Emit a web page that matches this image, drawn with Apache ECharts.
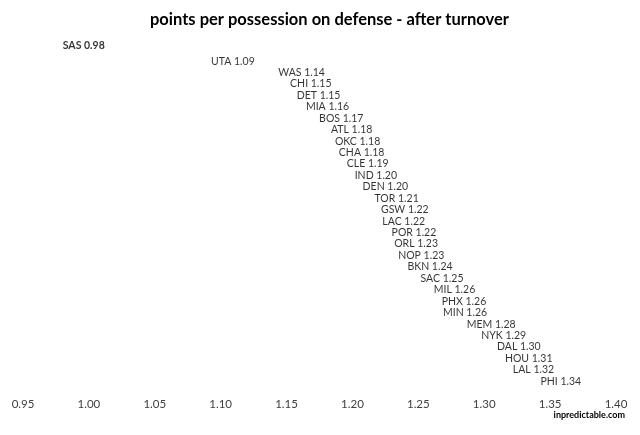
<!DOCTYPE html>
<html>
<head>
<meta charset="utf-8">
<script src="https://cdn.jsdelivr.net/npm/echarts@6/dist/echarts.min.js"></script>
<style>
  html, body { margin: 0; padding: 0; background: #fff; }
  #chart { width: 640px; height: 435px; }
</style>
</head>
<body>
<div id="chart"></div>
<script>
var dom = document.getElementById("chart");
var myChart = echarts.init(dom);

var teams = ['SAS', 'UTA', 'WAS', 'CHI', 'DET', 'MIA', 'BOS', 'ATL', 'OKC', 'CHA',
    'CLE', 'IND', 'DEN', 'TOR', 'GSW', 'LAC', 'POR', 'ORL', 'NOP', 'BKN',
    'SAC', 'MIL', 'PHX', 'MIN', 'MEM', 'NYK', 'DAL', 'HOU', 'LAL', 'PHI'];

var ppp = [0.976, 1.087, 1.138, 1.147, 1.152, 1.159, 1.169, 1.178, 1.181, 1.184,
    1.190, 1.196, 1.202, 1.211, 1.216, 1.217, 1.224, 1.226, 1.229, 1.236,
    1.246, 1.256, 1.262, 1.263, 1.281, 1.292, 1.304, 1.310, 1.316, 1.337];

var xTicks = [0.95, 1.00, 1.05, 1.10, 1.15, 1.20, 1.25, 1.30, 1.35, 1.40];

var font = 'Lato, "Open Sans", sans-serif';

var data = ppp.map(function (v, i) {
    var item = { value: [v, teams[i]] };
    if (teams[i] === 'SAS') {
        item.label = { fontWeight: 'bold', offset: [-2, -4] };
    }
    return item;
});

var option = {
    backgroundColor: '#fff',
    animation: false,
    title: {
        text: 'points per possession on defense - after turnover',
        left: 145,
        top: 6,
        textStyle: {
            fontFamily: font,
            fontSize: 16.5,
            fontWeight: 'bold',
            color: '#000'
        }
    },
    grid: {
        left: 23,
        right: 24,
        top: 44,
        height: 343
    },
    xAxis: {
        type: 'value',
        min: xTicks[0],
        max: xTicks[xTicks.length - 1],
        interval: 0.05,
        splitLine: { show: false },
        axisLine: { show: false },
        axisTick: { show: false },
        axisLabel: {
            margin: 11,
            fontFamily: font,
            fontSize: 11.5,
            color: '#404040',
            formatter: function (v) { return v.toFixed(2); }
        }
    },
    yAxis: {
        type: 'category',
        inverse: true,
        data: teams,
        show: false
    },
    series: [{
        type: 'scatter',
        symbolSize: 1,
        itemStyle: { color: 'rgba(255,255,255,0)' },
        label: {
            show: true,
            position: 'right',
            distance: 7,
            fontFamily: font,
            fontSize: 10.5,
            color: '#000',
            formatter: function (p) {
                return p.value[1] + ' ' + p.value[0].toFixed(2);
            }
        },
        data: data
    }],
    graphic: [{
        type: 'text',
        right: 15,
        top: 411,
        style: {
            text: 'inpredictable.com',
            fontFamily: font,
            fontSize: 9,
            fontWeight: 'bold',
            fill: '#000'
        }
    }]
};

myChart.setOption(option);
</script>
</body>
</html>
